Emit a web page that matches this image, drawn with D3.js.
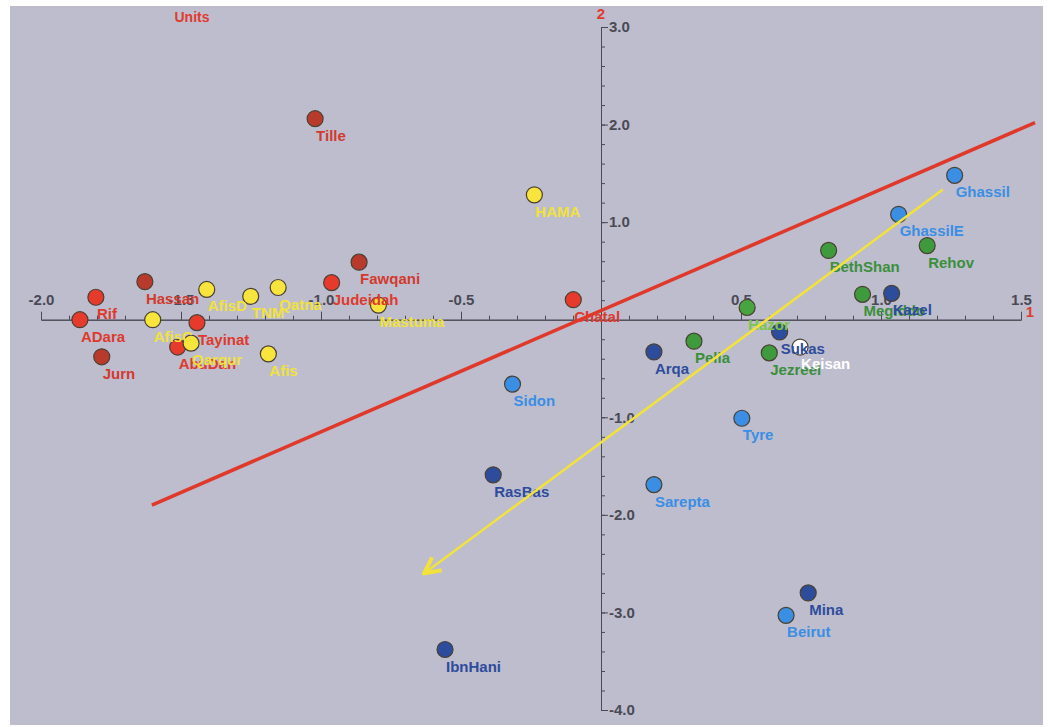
<!DOCTYPE html>
<html><head><meta charset="utf-8">
<script src="https://cdn.jsdelivr.net/npm/d3@7"></script>
<style>
html,body{margin:0;padding:0;background:#fff;}
svg{display:block;font-family:"Liberation Sans",Arial,sans-serif;}
</style></head>
<body>
<svg id="chart" width="1048" height="727"></svg>
<script>
// ---- data ----
const siteNames = ["Tille","Fawqani","Judeidah","Hassan","Rif","ADara","Jurn","Tayinat","AbuDan","Chatal",
  "HAMA","AfisD","TNM","Qatna","AfisC","Qarqur","Afis","Mastuma",
  "BethShan","Rehov","Megiddo","Hazor","Pella","Jezreel",
  "Kazel","Sukas","Arqa","RasBas","IbnHani","Mina",
  "Ghassil","GhassilE","Sidon","Tyre","Sarepta","Beirut","Keisan"];
const siteX = [-1.021,-0.864,-0.962,-1.629,-1.804,-1.861,-1.783,-1.443,-1.512,-0.099,
  -0.238,-1.408,-1.251,-1.153,-1.601,-1.464,-1.188,-0.795,
  0.813,1.165,0.934,0.522,0.332,0.601,
  1.038,0.638,0.189,-0.385,-0.557,0.740,
  1.263,1.063,-0.316,0.503,0.189,0.661,0.711];
const siteY = [2.06,0.59,0.38,0.39,0.23,0.0,-0.38,-0.03,-0.28,0.205,
  1.28,0.31,0.24,0.33,0.0,-0.24,-0.35,0.15,
  0.71,0.76,0.26,0.125,-0.22,-0.34,
  0.27,-0.125,-0.33,-1.59,-3.38,-2.80,
  1.48,1.08,-0.66,-1.01,-1.69,-3.03,-0.28];
const siteGroup = ["darkred","darkred","red","darkred","red","red","darkred","red","red","red",
  "yellow","yellow","yellow","yellow","yellow","yellow","yellow","yellow",
  "green","green","green","lightgreen","green","green",
  "navy","navy","navy","navy","navy","navy",
  "blue","blue","blue","blue","blue","blue","white"];
const groupKeys   = ["red","darkred","yellow","green","lightgreen","navy","blue","white"];
const groupFill   = ["#e53a2c","#b83a2c","#f7e43c","#3f9a3d","#48a43e","#2e4c9c","#3a8ee4","#ffffff"];
const groupLabel  = ["#dd3a2d","#d23a2e","#f1e23c","#3b8f3b","#7cc54a","#2e4c9c","#3a8ee4","#ffffff"];

const xTicks = [-2.0,-1.5,-1.0,-0.5,0.5,1.0,1.5];
const yTicks = [3.0,2.0,1.0,-1.0,-2.0,-3.0,-4.0];
const redLineX = [-1.604, 1.55];
const redLineY = [-1.90, 2.02];
const arrowX = [1.221, -0.632];
const arrowY = [1.334, -2.60];

// ---- drawing ----
const svg = d3.select("#chart");
svg.append("rect").attr("x",10).attr("y",6).attr("width",1033).attr("height",719).attr("fill","#bdbdcd");

const x = d3.scaleLinear().domain([-2,1.5]).range([41,1021]);
const y = d3.scaleLinear().domain([3,-4]).range([27,710]);
const fmt = v => d3.format(".1f")(v).replace("\u2212","-");

const axisColor = "#4a4a55";
// minor ticks
const xMinor = d3.range(-20,16).map(v=>v/10);
const yMinor = d3.range(-20,16).map(v=>v/5);
svg.append("g").attr("transform",`translate(0,${y(0)})`)
  .call(d3.axisTop(x).tickValues(xMinor).tickSize(4).tickSizeOuter(0).tickFormat(""))
  .call(g=>{g.selectAll("line,path").attr("stroke",axisColor);});
svg.append("g").attr("transform",`translate(${x(0)},0)`)
  .call(d3.axisRight(y).tickValues(yMinor).tickSize(4).tickSizeOuter(0).tickFormat(""))
  .call(g=>{g.selectAll("line,path").attr("stroke",axisColor);});
// major ticks
const gx = svg.append("g").attr("transform",`translate(0,${y(0)})`)
  .call(d3.axisTop(x).tickValues(xTicks).tickSize(8).tickSizeOuter(0).tickFormat(fmt).tickPadding(7));
gx.selectAll("line,path").attr("stroke",axisColor);
gx.selectAll("text").attr("fill",axisColor).attr("font-size",15).attr("font-weight","bold").attr("font-family","Liberation Sans, Arial, sans-serif");
const gy = svg.append("g").attr("transform",`translate(${x(0)},0)`)
  .call(d3.axisRight(y).tickValues(yTicks).tickSize(7).tickSizeOuter(0).tickFormat(fmt).tickPadding(1));
gy.selectAll("line,path").attr("stroke",axisColor);
gy.selectAll("text").attr("fill",axisColor).attr("font-size",15).attr("font-weight","bold").attr("font-family","Liberation Sans, Arial, sans-serif");

// axis titles
svg.append("text").attr("x",x(0)).attr("y",19).attr("text-anchor","middle").attr("fill","#e23a30")
  .attr("font-size",15).attr("font-weight","bold").text("2");
svg.append("text").attr("x",1030).attr("y",y(0)-3).attr("text-anchor","middle").attr("fill","#e23a30")
  .attr("font-size",15).attr("font-weight","bold").text("1");
svg.append("text").attr("x",192).attr("y",22).attr("text-anchor","middle").attr("fill","#e23a30")
  .attr("font-size",14).attr("font-weight","bold").text("Units");

// points
const data = siteNames.map((n,i)=>({name:n,x:siteX[i],y:siteY[i],g:groupKeys.indexOf(siteGroup[i])}));
const pts = svg.append("g");
pts.selectAll("circle").data(data).join("circle")
  .attr("cx",d=>x(d.x)).attr("cy",d=>y(d.y)).attr("r",8)
  .attr("fill",d=>groupFill[d.g]).attr("stroke","#4a4033").attr("stroke-width",1.2);
pts.selectAll("text").data(data).join("text")
  .attr("x",d=>x(d.x)+1).attr("y",d=>y(d.y)+22)
  .attr("fill",d=>groupLabel[d.g]).attr("font-size",15).attr("font-weight","bold")
  .text(d=>d.name);

// lines
const line = d3.line().x(d=>x(d[0])).y(d=>y(d[1]));
svg.append("path").attr("d",line(redLineX.map((v,i)=>[v,redLineY[i]])))
  .attr("stroke","#e0392b").attr("stroke-width",3.5).attr("fill","none");
svg.append("defs").append("marker").attr("id","arr").attr("viewBox","0 0 10 10")
  .attr("refX",9).attr("refY",5).attr("orient","auto")
  .attr("markerUnits","userSpaceOnUse").attr("markerWidth",20).attr("markerHeight",20)
  .append("path").attr("d","M1,1 L9,5 L1,9").attr("fill","none").attr("stroke","#f2e23a").attr("stroke-width",2);
svg.append("path").attr("d",line(arrowX.map((v,i)=>[v,arrowY[i]])))
  .attr("stroke","#f2e23a").attr("stroke-width",2.5).attr("fill","none").attr("marker-end","url(#arr)");
</script>
</body></html>
